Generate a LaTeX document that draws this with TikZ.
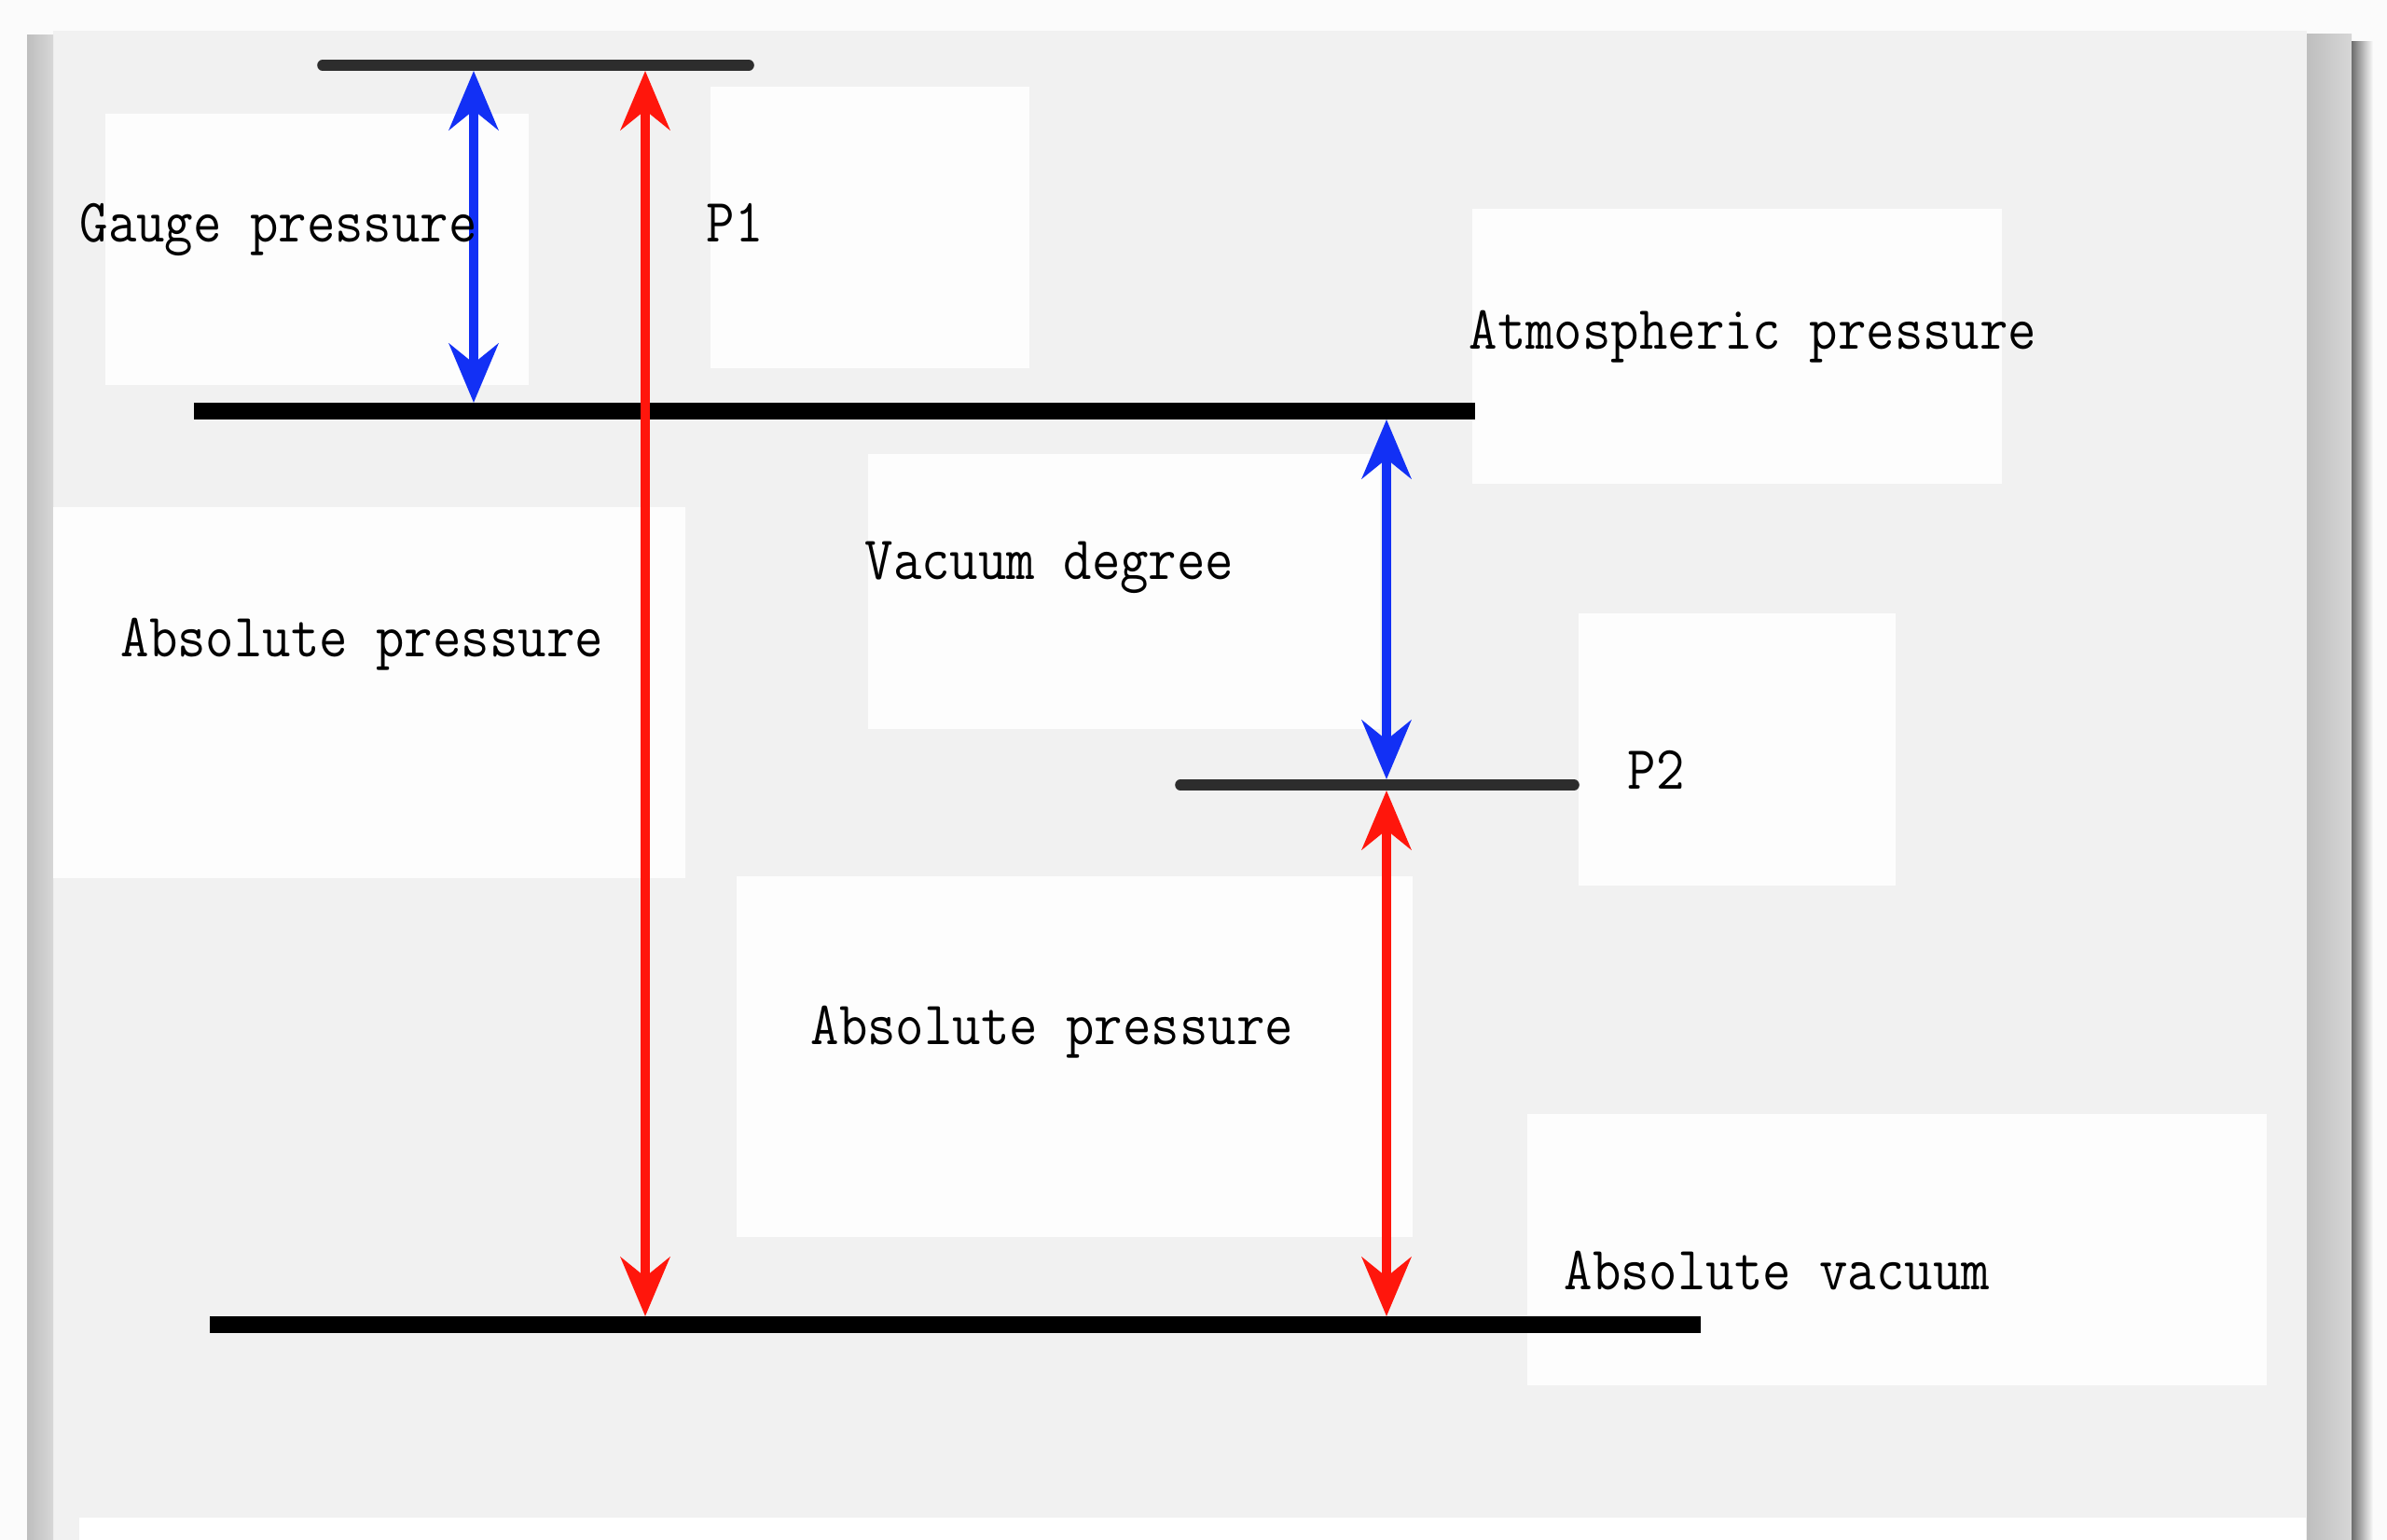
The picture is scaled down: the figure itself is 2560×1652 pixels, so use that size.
\documentclass[tikz,border=0pt]{standalone}
\usepackage{graphicx}
\usetikzlibrary{arrows.meta}
\definecolor{pagebg}{RGB}{241,241,241}
\definecolor{boxbg}{RGB}{253,253,253}
\definecolor{outerbg}{RGB}{251,251,251}
\definecolor{myblue}{RGB}{18,48,245}
\definecolor{myred}{RGB}{255,22,12}
\definecolor{darkline}{RGB}{45,45,45}
\definecolor{stripA}{RGB}{190,190,190}
\definecolor{stripB}{RGB}{215,215,215}
\definecolor{stripC}{RGB}{110,110,110}
\begin{document}
\begin{tikzpicture}[x=0.01cm,y=-0.01cm,
  lbl/.style={anchor=base west, inner sep=0pt, font=\fontsize{16.8pt}{20pt}\selectfont\ttfamily},
  wbox/.style={fill=boxbg, draw=none},
  level/.style={line width=5.3pt, color=black},
  thinlevel/.style={line width=3.3pt, color=darkline, line cap=round},
  bluearrow/.style={draw=myblue, line width=2.7pt,
     {Stealth[length=18pt,width=15pt,inset=6pt]}-{Stealth[length=18pt,width=15pt,inset=6pt]}},
  redarrow/.style={draw=myred, line width=2.7pt,
     {Stealth[length=18pt,width=15pt,inset=6pt]}-{Stealth[length=18pt,width=15pt,inset=6pt]}}
]
\useasboundingbox (0,0) rectangle (2560,1652);
% page
\fill[outerbg] (0,0) rectangle (2560,1652);
\fill[pagebg] (57,33) rectangle (2474,1652);
\shade[left color=stripA, right color=stripB] (29,38) rectangle (57,1652);
\shade[left color=stripA, right color=stripB] (2474,37) rectangle (2522,1652);
\shade[left color=stripC, right color=outerbg] (2522,45) rectangle (2545,1652);
\fill[white] (85,1628) rectangle (2473,1652);
% white label boxes
\fill[wbox] (113,122) rectangle (567,413);
\fill[wbox] (762,93) rectangle (1104,395);
\fill[wbox] (1579,224) rectangle (2147,519);
\fill[wbox] (57,544) rectangle (735,942);
\fill[wbox] (931,487) rectangle (1480,782);
\fill[wbox] (1693,658) rectangle (2033,950);
\fill[wbox] (790,940) rectangle (1515,1327);
\fill[wbox] (1638,1195) rectangle (2431,1486);
% level lines
\coordinate (topL) at (346,70);   \coordinate (topR) at (803,70);
\coordinate (atmL) at (208,441);  \coordinate (atmR) at (1582,441);
\coordinate (p2L) at (1266,842);  \coordinate (p2R) at (1688,842);
\coordinate (vacL) at (225,1421); \coordinate (vacR) at (1824,1421);
\draw[thinlevel] (topL) -- (topR);
\draw[level] (atmL) -- (atmR);
\draw[thinlevel] (p2L) -- (p2R);
\draw[level] (vacL) -- (vacR);
% arrow end points
\coordinate (g1) at (508,76);   \coordinate (g2) at (508,432);
\coordinate (a1) at (692,76);   \coordinate (a2) at (692,1412);
\coordinate (v1) at (1487,450); \coordinate (v2) at (1487,836);
\coordinate (b1) at (1487,848); \coordinate (b2) at (1487,1412);
\draw[bluearrow] (g1) -- (g2);
\draw[redarrow] (a1) -- (a2);
\draw[bluearrow] (v1) -- (v2);
\draw[redarrow] (b1) -- (b2);
% labels
\node[lbl] (tgauge) at (85,260) {\scalebox{1}[1.12]{Gauge pressure}};
\node[lbl] (tp1) at (757,260) {\scalebox{1}[1.12]{P1}};
\node[lbl] (tatm) at (1575,375) {\scalebox{1}[1.12]{Atmospheric pressure}};
\node[lbl] (tvac) at (927,621) {\scalebox{1}[1.12]{Vacuum degree}};
\node[lbl] (tabs1) at (129,705) {\scalebox{1}[1.12]{Absolute pressure}};
\node[lbl] (tp2) at (1745,846) {\scalebox{1}[1.12]{P2}};
\node[lbl] (tabs2) at (869,1120) {\scalebox{1}[1.12]{Absolute pressure}};
\node[lbl] (tavac) at (1677,1383) {\scalebox{1}[1.12]{Absolute vacuum}};
\end{tikzpicture}
\end{document}
